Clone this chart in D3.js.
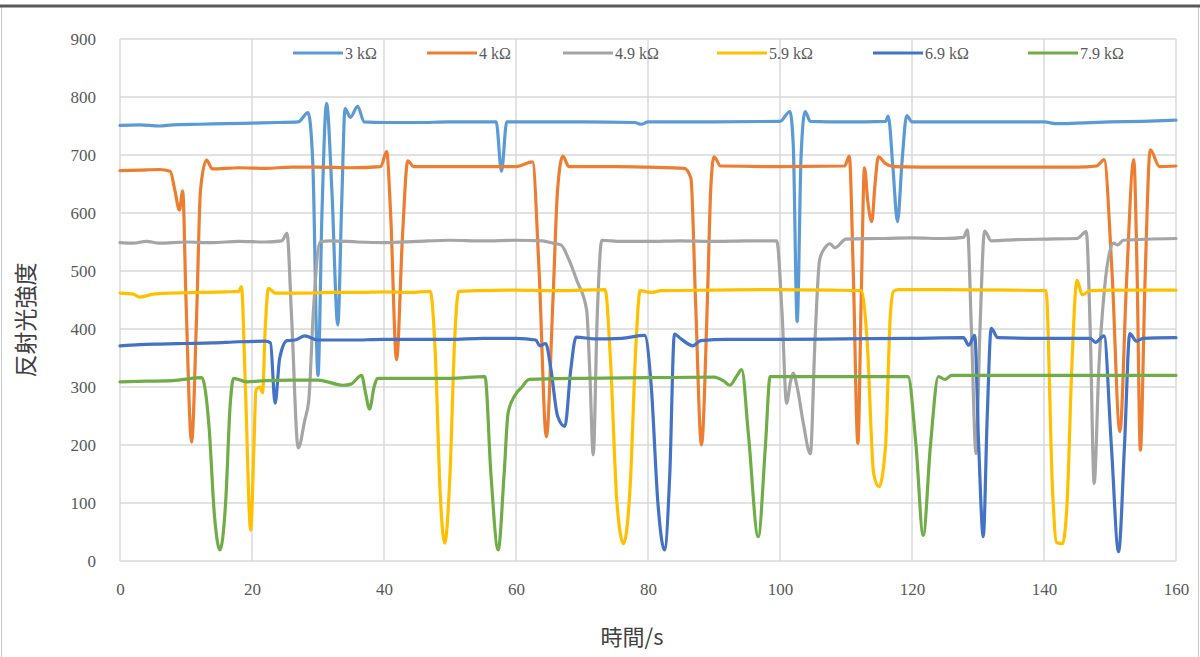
<!DOCTYPE html>
<html>
<head>
<meta charset="utf-8">
<script src="https://cdn.jsdelivr.net/npm/d3@7"></script>
<style>
    html, body { margin: 0; padding: 0; background: #fff; }
    svg { display: block; }
</style>
</head>
<body>
<div id="chart"></div>
<script>
// ===== data (time in s, reflected light intensity) =====
const seriesNames = ["3 kΩ", "4 kΩ", "4.9 kΩ", "5.9 kΩ", "6.9 kΩ", "7.9 kΩ"];
const seriesColors = ["#5B9BD5", "#ED7D31", "#A5A5A5", "#FFC000", "#4472C4", "#70AD47"];

const r30 = [[0,751],[3,752],[6,750],[8,752],[12,753],[16,754],[20,755],[24,756],[27,757],[28.5,773],[29.2,690],[30.0,320],[30.6,600],[31.3,789],[32.1,640],[33.0,407],[33.6,620],[34.1,780],[34.9,765],[36.0,784],[37.0,757],[40,756],[45,756],[50,757],[57.0,757],[57.8,672],[58.6,757],[60,757],[70,757],[78,756],[79,753],[80,757],[90,757],[100,758],[101.5,775],[102.0,720],[102.6,413],[103.2,700],[103.8,775],[104.6,758],[110,757],[116,758],[116.4,767],[117.1,680],[117.8,585],[118.5,690],[119.2,768],[120,757],[130,757],[140,757],[142,754],[145,755],[150,757],[155,758],[160,760]];

const r40 = [[0,673],[3,674],[6,675],[7.6,672],[8.3,640],[9.0,605],[9.5,638],[10.0,450],[10.85,205],[11.6,420],[12.2,640],[13.1,691],[14,676],[18,678],[22,677],[26,679],[30,679],[35,678],[39.5,680],[40.4,706],[41.0,600],[41.9,347],[42.8,560],[43.6,690],[44.5,680],[50,680],[55,680],[60,680],[62.5,688],[63.5,500],[64.6,214],[65.6,450],[66.3,640],[67.1,698],[68,680],[75,680],[80,679],[85.5,677],[86.5,660],[87.2,450],[88.1,200],[89.0,450],[89.5,640],[90,697],[91,681],[100,680],[109.8,681],[110.5,698],[111.1,500],[111.8,203],[112.3,450],[112.8,678],[113.3,620],[113.9,585],[114.4,650],[114.9,697],[116,685],[117.3,680],[125,679],[135,679],[145,679],[148,681],[149.1,692],[150.3,500],[151.5,223],[152.5,480],[153.6,692],[154.1,500],[154.6,191],[155.3,480],[156.1,709],[157.5,680],[160,681]];

const r49 = [[0,549],[2,548],[4,551],[6,548],[10,550],[14,549],[18,551],[22,550],[24.5,552],[25.3,565],[26.0,420],[27,195],[28,243],[28.6,277],[29.3,430],[30.3,550],[32,552],[36,550],[40,549],[45,551],[50,553],[55,552],[60,553],[64,552],[65.6,548],[66.8,545],[68,520],[69.2,484],[70.7,433],[71.2,320],[71.7,183],[72.3,420],[73,553],[76,551],[80,551],[85,552],[90,551],[95,552],[99.5,552],[100.3,430],[101,272],[101.6,310],[102,324],[102.6,300],[103.5,240],[104.6,185],[105.3,380],[106,519],[106.8,540],[107.6,547],[108.3,540],[110,555],[115,556],[120,557],[125,556],[127.8,558],[128.4,571],[129.0,400],[129.7,185],[130.3,400],[131,569],[132,552],[136,554],[140,555],[145,556],[146.4,568],[147.0,400],[147.6,134],[148.3,330],[149.2,473],[150.5,548],[151.2,545],[152,553],[160,556]];

const r59 = [[0,462],[2,460],[3,455],[5,460],[8,462],[12,463],[16,464],[18.0,465],[18.4,473],[19.0,300],[19.8,53],[20.3,200],[20.6,295],[21.2,300],[21.6,290],[22.0,400],[22.5,470],[23.5,462],[28,462],[32,463],[36,463],[40,464],[44,463],[47,465],[47.8,350],[48.5,120],[49.2,31],[50,150],[50.7,380],[51.3,465],[54,466],[60,467],[65,466],[70,467],[73.5,468],[74.3,350],[75.3,100],[76.3,30],[77.3,130],[78.2,380],[78.8,466],[80.5,463],[82,466],[90,467],[100,468],[108,467],[112.3,466],[113.2,380],[114.2,150],[115,128],[116,200],[116.7,420],[117.2,465],[118,468],[125,468],[135,467],[140.3,466],[141.3,120],[141.9,32],[142.8,30],[143.5,100],[144.2,330],[145,484],[145.8,459],[147,466],[150,467],[160,467]];

const r69 = [[0,371],[3,373],[6,374],[10,375],[14,376],[18,378],[22,379],[22.8,376],[23.5,272],[24.2,350],[25.3,380],[26.5,381],[28,388],[30,381],[35,381],[40,382],[50,382],[55,384],[60,384],[63,381],[63.6,371],[64.5,375],[65.3,330],[66.3,250],[67.4,232],[68.3,330],[69.1,386],[72,383],[76,384],[79.5,389],[80.5,300],[81.5,100],[82.5,19],[83.3,150],[84,391],[85,383],[86.8,371],[88,380],[92,382],[100,382],[110,383],[120,384],[127.8,385],[128.6,372],[129.5,389],[130.1,200],[130.8,42],[131.4,250],[132,401],[133,385],[140,384],[147,384],[147.8,377],[149.1,388],[150.2,200],[151.3,16],[152.2,200],[153,392],[154,379],[155,384],[160,385]];

const r79 = [[0,309],[4,310],[8,311],[12.4,316],[13.5,230],[14.3,80],[15.15,19],[16.0,100],[16.7,270],[17.2,315],[19.2,309],[22,311],[26,312],[30,312],[33.8,303],[35,305],[36.6,320],[37.2,290],[37.8,262],[38.5,300],[39,315],[45,315],[50,315],[55.3,318],[56.2,150],[57.3,19],[58.2,150],[58.8,255],[59.8,285],[60.9,300],[62,313],[70,315],[80,316],[90,317],[91.5,310],[92.4,303],[93.5,320],[94.2,330],[95.2,220],[96.7,42],[97.8,200],[98.5,318],[105,318],[115,318],[119.4,318],[120.6,200],[121.7,44],[122.8,200],[124,318],[125,313],[126,320],[135,320],[145,320],[160,320]];

const seriesData = [r30, r40, r49, r59, r69, r79];

const xTicks = [0, 20, 40, 60, 80, 100, 120, 140, 160];
const yTicks = [0, 100, 200, 300, 400, 500, 600, 700, 800, 900];

// ===== layout =====
const width = 1200;
const height = 657;
const plot = { left: 120, right: 1176, top: 39, bottom: 561 };
const numFont = "'Liberation Serif', 'DejaVu Serif', serif";
const cjkFont = "'Noto Sans CJK JP', 'Noto Sans CJK SC', sans-serif";

const svg = d3.select("#chart")
    .append("svg")
    .attr("width", width)
    .attr("height", height);

svg.append("rect")
    .attr("width", width)
    .attr("height", height)
    .attr("fill", "#fff");

// picture frame
svg.append("rect")
    .attr("x", 1.5).attr("y", 6)
    .attr("width", width - 3).attr("height", height)
    .attr("fill", "none")
    .attr("stroke", "#c8c8c8")
    .attr("stroke-width", 1);
svg.append("line")
    .attr("x1", 0).attr("x2", width)
    .attr("y1", 6).attr("y2", 6)
    .attr("stroke", "#5a5a5a")
    .attr("stroke-width", 3);

const x = d3.scaleLinear().domain([0, 160]).range([plot.left, plot.right]);
const y = d3.scaleLinear().domain([0, 900]).range([plot.bottom, plot.top]);

// gridlines
svg.append("g")
    .selectAll("line.hgrid")
    .data(yTicks)
    .join("line")
    .attr("class", "hgrid")
    .attr("x1", plot.left).attr("x2", plot.right)
    .attr("y1", d => y(d)).attr("y2", d => y(d))
    .attr("stroke", "#d9d9d9")
    .attr("stroke-width", 1.5);

svg.append("g")
    .selectAll("line.vgrid")
    .data(xTicks)
    .join("line")
    .attr("class", "vgrid")
    .attr("x1", d => x(d)).attr("x2", d => x(d))
    .attr("y1", plot.top).attr("y2", plot.bottom)
    .attr("stroke", "#d9d9d9")
    .attr("stroke-width", 1.5);

// axes (labels only, Excel style)
const yAxis = svg.append("g")
    .attr("transform", `translate(${plot.left - 24},0)`)
    .call(d3.axisLeft(y).tickValues(yTicks).tickSize(0).tickPadding(0));
yAxis.select(".domain").remove();
yAxis.selectAll("text")
    .attr("fill", "#595959")
    .style("font-family", numFont)
    .style("font-size", "17px");

const xAxis = svg.append("g")
    .attr("transform", `translate(0,${plot.bottom + 22})`)
    .call(d3.axisBottom(x).tickValues(xTicks).tickSize(0).tickPadding(0));
xAxis.select(".domain").remove();
xAxis.selectAll("text")
    .attr("fill", "#595959")
    .style("font-family", numFont)
    .style("font-size", "17px");

// lines
const line = d3.line()
    .x(d => x(d[0]))
    .y(d => y(d[1]))
    .curve(d3.curveMonotoneX);

svg.append("g")
    .selectAll("path.series")
    .data(seriesData)
    .join("path")
    .attr("class", "series")
    .attr("fill", "none")
    .attr("stroke", (d, k) => seriesColors[k])
    .attr("stroke-width", 3.2)
    .attr("stroke-linejoin", "round")
    .attr("stroke-linecap", "round")
    .attr("d", line);

// legend
const legendX = [293, 427, 563, 717, 873, 1028];
const legend = svg.append("g")
    .selectAll("g.legend")
    .data(seriesNames)
    .join("g")
    .attr("class", "legend")
    .attr("transform", (d, k) => `translate(${legendX[k]},53)`);

legend.append("line")
    .attr("x1", 0).attr("x2", 50)
    .attr("stroke", (d, k) => seriesColors[k])
    .attr("stroke-width", 3);

legend.append("text")
    .attr("x", 52)
    .attr("dy", "0.35em")
    .attr("fill", "#595959")
    .style("font-family", numFont)
    .style("font-size", "16px")
    .text(d => d);

// axis titles
svg.append("text")
    .attr("transform", `translate(34,${(plot.top + plot.bottom) / 2 + 20}) rotate(-90)`)
    .attr("text-anchor", "middle")
    .attr("fill", "#404040")
    .style("font-family", cjkFont)
    .style("font-size", "23px")
    .text("反射光強度");

svg.append("text")
    .attr("x", 632)
    .attr("y", 645)
    .attr("text-anchor", "middle")
    .attr("fill", "#404040")
    .style("font-family", cjkFont)
    .style("font-size", "22px")
    .text("時間/s");
</script>
</body>
</html>
